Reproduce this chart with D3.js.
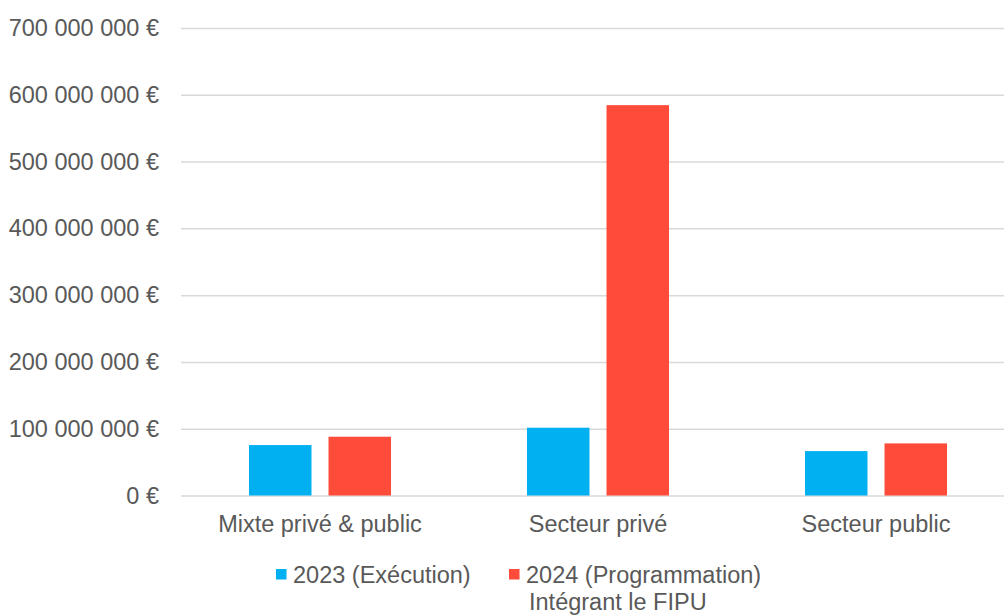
<!DOCTYPE html>
<html>
<head>
<meta charset="utf-8">
<script src="https://cdn.jsdelivr.net/npm/d3@7"></script>
<style>
  body { margin: 0; background: #fff; }
  svg { display: block; font-family: "Liberation Sans", Arial, sans-serif; }
</style>
</head>
<body>
<div id="chart"></div>
<script>
// data
const categories = ["Mixte privé & public", "Secteur privé", "Secteur public"];
const seriesNames = ["2023 (Exécution)", "2024 (Programmation)"];
const seriesSub = ["", "Intégrant le FIPU"];
const values2023 = [75.5e6, 101.5e6, 66.5e6];
const values2024 = [88e6, 584.5e6, 78e6];
const yTicks = [0, 100e6, 200e6, 300e6, 400e6, 500e6, 600e6, 700e6];
const colors = ["#00B0F0", "#FF4B39"];

const W = 1004, H = 615;
const margin = {top: 28, right: -11, bottom: 119.5, left: 181};
const width = W - margin.left - margin.right,
      height = H - margin.top - margin.bottom;
const fontSize = "23.5px";

const svg = d3.select("#chart").append("svg")
    .attr("width", W)
    .attr("height", H);

const g = svg.append("g")
    .attr("transform", `translate(${margin.left}, ${margin.top})`);

const y = d3.scaleLinear()
    .domain([0, 700e6])
    .range([height, 0]);

const x0 = d3.scaleBand()
    .domain(categories)
    .range([0, width])
    .padding(0);

const x1 = d3.scaleBand()
    .domain(seriesNames)
    .range([0, x0.bandwidth()])
    .paddingInner(0.214)
    .paddingOuter(0.855);

const loc = d3.formatLocale({decimal: ",", thousands: " ", grouping: [3], currency: ["", " €"]});
const fmt = d => loc.format(",.0f")(d) + " €";

// y axis with gridlines
const yAxis = g.append("g")
    .call(d3.axisLeft(y).tickValues(yTicks).tickFormat(fmt).tickSize(-width).tickPadding(22));
yAxis.select(".domain").remove();
yAxis.selectAll("line")
    .attr("stroke", "#D9D9D9")
    .attr("stroke-width", 1.5);
yAxis.selectAll("text")
    .attr("fill", "#595959")
    .style("font-size", fontSize);

// x axis labels
const xAxis = g.append("g")
    .attr("transform", `translate(0, ${height})`)
    .call(d3.axisBottom(x0).tickSize(0).tickPadding(20));
xAxis.select(".domain").remove();
xAxis.selectAll("text")
    .attr("fill", "#595959")
    .style("font-size", fontSize);

// bars
const rows = categories.map((c, i) => ({cat: c, vals: [values2023[i], values2024[i]]}));

g.selectAll("g.grp")
  .data(rows)
  .join("g")
    .attr("class", "grp")
    .attr("transform", d => `translate(${x0(d.cat)}, 0)`)
  .selectAll("rect")
  .data(d => d.vals.map((v, j) => ({name: seriesNames[j], value: v, j: j})))
  .join("rect")
    .attr("x", d => x1(d.name))
    .attr("y", d => y(d.value))
    .attr("width", x1.bandwidth())
    .attr("height", d => y(0) - y(d.value))
    .attr("fill", d => colors[d.j]);

// legend
const legendX = [276, 509];
const legend = svg.append("g");
seriesNames.forEach((name, i) => {
    const lg = legend.append("g").attr("transform", `translate(${legendX[i]}, 583)`);
    lg.append("rect")
        .attr("x", 0)
        .attr("y", -14)
        .attr("width", 10.5)
        .attr("height", 10.5)
        .attr("fill", colors[i]);
    const t = lg.append("text")
        .attr("fill", "#595959")
        .style("font-size", fontSize);
    t.append("tspan").attr("x", 17).attr("y", 0).text(name);
    if (seriesSub[i]) {
        t.append("tspan").attr("x", 20).attr("y", 27).text(seriesSub[i]);
    }
});
</script>
</body>
</html>
